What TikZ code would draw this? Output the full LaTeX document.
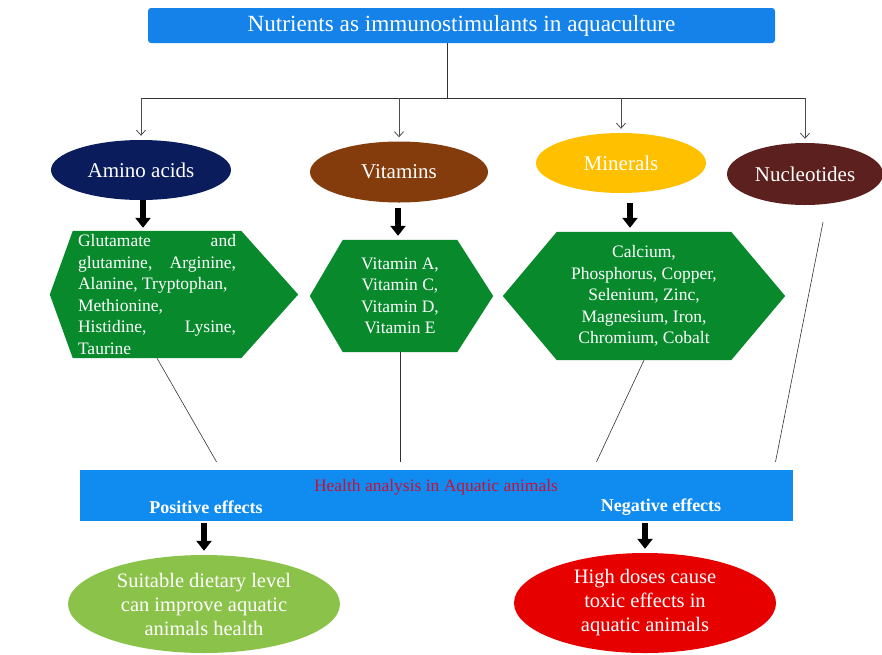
\documentclass[tikz,border=0pt]{standalone}
\usepackage{fontspec}
\setmainfont{Liberation Serif}
\usetikzlibrary{calc,positioning,shapes.geometric,arrows.meta,backgrounds}

\definecolor{titleblue}{RGB}{20,130,232}
\definecolor{boxblue}{RGB}{16,140,240}
\definecolor{navy}{RGB}{11,28,92}
\definecolor{rust}{RGB}{132,60,12}
\definecolor{gold}{RGB}{255,192,0}
\definecolor{maroon}{RGB}{92,32,30}
\definecolor{hexgreen}{RGB}{8,138,44}
\definecolor{leafgreen}{RGB}{139,195,74}
\definecolor{alarmred}{RGB}{230,0,0}
\definecolor{healthred}{RGB}{200,16,56}

\tikzstyle{oval}     = [ellipse, inner sep=0pt, text=white, font=\fontsize{21}{24}\selectfont]
\tikzstyle{listbox}  = [rectangle, inner sep=0pt, text=white, font=\fontsize{17.5}{21.5}\selectfont]
\tikzstyle{branch}   = [draw=black!70, line width=0.8pt, -{Straight Barb[length=5pt,width=9pt]}]
\tikzstyle{link}     = [draw=black!80, line width=0.6pt]
\tikzstyle{bigarrow} = [line width=6pt, -{Triangle[width=15pt,length=10pt]}]

\begin{document}
\begin{tikzpicture}[x=1pt, y=-1pt,
            effect/.style={text=white, font=\bfseries\fontsize{18}{20}\selectfont},
            outcome/.style={ellipse, inner sep=0pt, text=white, align=center,
                    font=\fontsize{20.5}{24}\selectfont}]
        \useasboundingbox (0,0) rectangle (882,654);

        % title and branches
        \node (title) [rectangle, rounded corners=3pt, fill=titleblue, text=white,
            minimum width=627pt, minimum height=35pt, font=\fontsize{23.2}{26}\selectfont]
            at (461.5,25.5) {Nutrients as immunostimulants in aquaculture};
        \coordinate (hub) at (447,98);

        \node (amino)   [oval, fill=navy,   minimum width=180pt, minimum height=60pt] at (141,170) {Amino acids};
        \node (vitamin) [oval, fill=rust,   minimum width=178pt, minimum height=61pt] at (399,172) {Vitamins};
        \node (mineral) [oval, fill=gold,   minimum width=170pt, minimum height=60pt] at (621,163) {Minerals};
        \node (nucleo)  [oval, fill=maroon, minimum width=156pt, minimum height=62pt] at (805,174) {Nucleotides};

        \draw[link] (title.south -| hub) -- (hub);
        \draw[link] (amino.north |- hub) -- (nucleo.north |- hub);
        \foreach \n in {amino,vitamin,mineral,nucleo}
            \draw[branch] (\n.north |- hub) -- ([yshift=4pt]\n.north);

        % lists
        \node (aminolist) [listbox, text width=158pt, align=justify, minimum width=168pt, minimum height=127pt]
            at (157,294.5) {Glutamate and\linebreak glutamine, Arginine,\linebreak Alanine, Tryptophan,\newline
            Methionine,\newline Histidine, Lysine,\linebreak Taurine};
        \node (vitaminlist) [listbox, align=center, minimum width=114pt, minimum height=112pt]
            at (400,296) {Vitamin A,\\Vitamin C,\\Vitamin D,\\Vitamin E};
        \node (minerallist) [listbox, align=center, minimum width=174pt, minimum height=128pt]
            at (644,296) {Calcium,\\Phosphorus, Copper,\\Selenium, Zinc,\\Magnesium, Iron,\\Chromium, Cobalt};

        \begin{scope}[on background layer]
            \fill[hexgreen] (aminolist.north west) -- (aminolist.north east) -- ([xshift=57pt]aminolist.east)
                -- (aminolist.south east) -- (aminolist.south west) -- ([xshift=-23pt]aminolist.west) -- cycle;
            \fill[hexgreen] (vitaminlist.north west) -- (vitaminlist.north east) -- ([xshift=36pt]vitaminlist.east)
                -- (vitaminlist.south east) -- (vitaminlist.south west) -- ([xshift=-33pt]vitaminlist.west) -- cycle;
            \fill[hexgreen] (minerallist.north west) -- (minerallist.north east) -- ([xshift=54pt]minerallist.east)
                -- (minerallist.south east) -- (minerallist.south west) -- ([xshift=-54pt]minerallist.west) -- cycle;
        \end{scope}

        \draw[bigarrow] ([xshift=2pt]amino.south) -- ([xshift=-14pt,yshift=3pt]aminolist.north);
        \draw[bigarrow] ([xshift=-1pt,yshift=-5pt]vitamin.south) -- ([xshift=-2pt,yshift=4pt]vitaminlist.north);
        \draw[bigarrow] ([xshift=9pt,yshift=-10pt]mineral.south) -- ([xshift=-14pt,yshift=4pt]minerallist.north);

        % health analysis
        \node (health) [rectangle, fill=boxblue, inner sep=0pt, minimum width=713pt, minimum height=51pt]
            at (436.5,495.5) {};
        \node (healthtitle) [text=healthred, font=\fontsize{17.5}{19}\selectfont] at (436,487)
            {Health analysis in Aquatic animals};
        \node (positive) [effect] at (206,507) {Positive effects};
        \node (negative) [effect] at (661,507) {Negative effects};

        \draw[link] (aminolist.south) -- ([xshift=-220pt,yshift=8pt]health.north);
        \draw[link, shorten >=8pt] (vitaminlist.south) -- (vitaminlist.south |- health.north);
        \draw[link] (minerallist.south) -- ([xshift=160pt,yshift=8pt]health.north);
        \draw[link] ([xshift=18pt,yshift=-17pt]nucleo.south) -- ([xshift=339pt,yshift=8pt]health.north);

        % outcomes
        \node (good) [outcome, fill=leafgreen, minimum width=272pt, minimum height=98pt] at (204,604)
            {Suitable dietary level\\can improve aquatic\\animals health};
        \node (bad) [outcome, fill=alarmred, minimum width=262pt, minimum height=100pt] at (645,603)
            {High doses cause\\toxic effects in\\aquatic animals};

        \draw[bigarrow] ([yshift=-2pt]good.north |- health.south) -- ([yshift=4pt]good.north);
        \draw[bigarrow] ([yshift=-2pt]bad.north |- health.south) -- ([yshift=4pt]bad.north);
    \end{tikzpicture}
\end{document}
